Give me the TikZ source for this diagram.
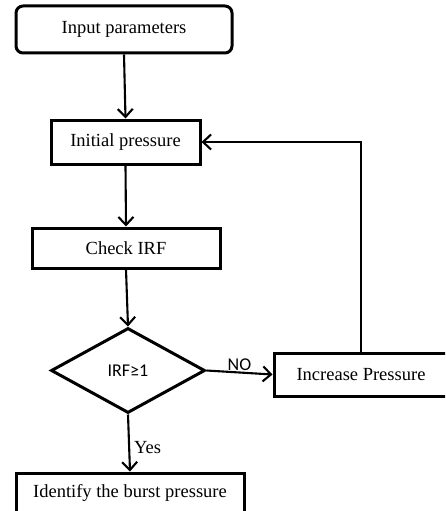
\documentclass[tikz,border=0pt]{standalone}
\usepackage{fontspec}
\setmainfont{Liberation Serif}
\newfontfamily\calib{Carlito}
\usetikzlibrary{shapes.geometric,arrows.meta}
\begin{document}
\begin{tikzpicture}[x=1pt,y=1pt,
  box/.style={draw,line width=3pt,minimum width=#1,inner sep=0pt,font=\fontsize{18.5}{22}\selectfont},
  conn/.style={line width=2.1pt,-{Straight Barb[length=8pt,width=15pt,line width=2.1pt]}},
  lbl/.style={inner sep=1pt}]
\useasboundingbox (0,0) rectangle (445,-511);
\clip (0,0) rectangle (445,-511);
\node[box=216pt,minimum height=47pt,rounded corners=7pt] (inp) at (124,-29.5) {Input parameters};
\node[box=149pt,minimum height=44pt] (init) at (125.5,-142) {Initial pressure};
\node[box=188pt,minimum height=40pt] (check) at (126,-248) {Check IRF};
\node[draw,diamond,line width=3pt,minimum width=154pt,minimum height=85pt,inner sep=0pt,aspect=1.8,font=\calib\fontsize{18}{22}\selectfont] (dia) at (128,-370.5) {IRF≥1};
\node[box=174pt,minimum height=43pt] (inc) at (361,-374.5) {Increase Pressure};
\node[box=228pt,minimum height=40pt] (idf) at (130,-493) {Identify the burst pressure};
\draw[conn] (inp.south) -- (init.north);
\draw[conn] (init.south) -- (check.north);
\draw[conn] (check.south) -- (dia.north);
\draw[conn] (dia.east) -- node[lbl,above,font=\calib\fontsize{18}{22}\selectfont]{NO} (inc.west);
\draw[conn] (dia.south) -- node[lbl,right,font=\fontsize{18.5}{22}\selectfont,yshift=-5pt,xshift=3pt]{Yes} (idf.north);
\draw[conn] (inc.north) |- (init.east);
\end{tikzpicture}
\end{document}
